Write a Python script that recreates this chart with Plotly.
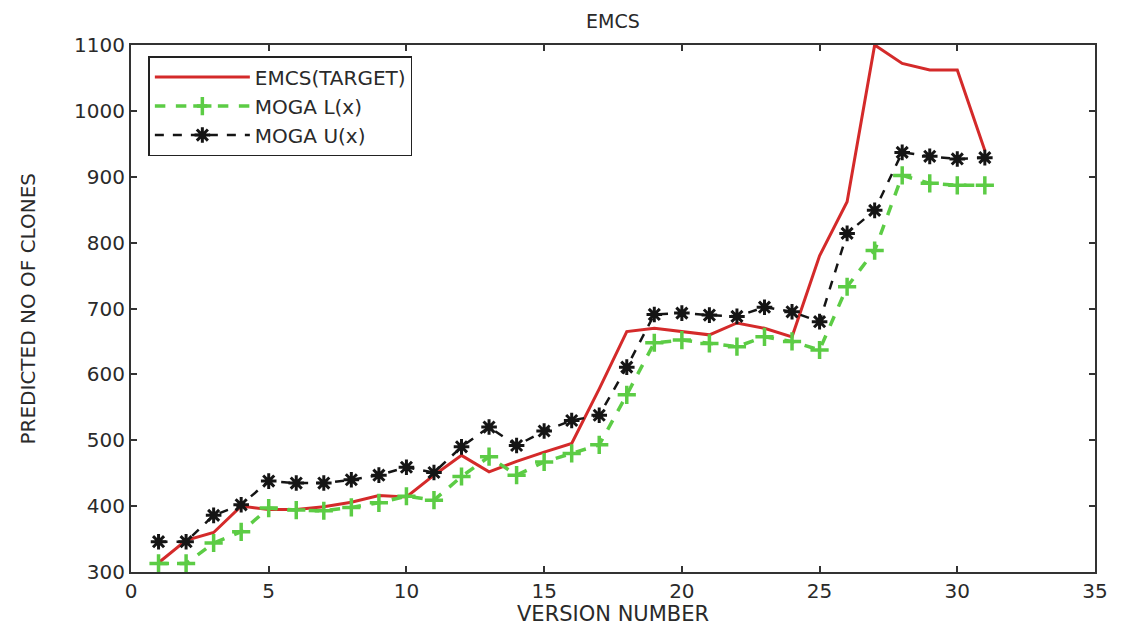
import plotly.graph_objects as go

# Version numbers and predicted clone counts
versions = list(range(1, 32))
emcs_target = [314, 348, 360, 400, 395, 395, 399, 406, 416, 414, 447, 477, 452, 468, 482, 495,
               578, 665, 670, 665, 660, 678, 670, 657, 780, 862, 1100, 1072, 1062, 1062, 940]
moga_lower = [313, 313, 344, 361, 397, 394, 393, 398, 405, 415, 409, 445, 475, 447, 467, 480,
              493, 569, 648, 652, 647, 642, 657, 650, 637, 733, 788, 902, 890, 887, 887]
moga_upper = [346, 346, 386, 402, 438, 435, 435, 440, 447, 459, 451, 490, 520, 492, 514, 530,
              538, 611, 691, 693, 690, 688, 702, 695, 680, 814, 849, 937, 931, 927, 929]

x_ticks = [0, 5, 10, 15, 20, 25, 30, 35]
y_ticks = [300, 400, 500, 600, 700, 800, 900, 1000, 1100]

FONT = "DejaVu Sans"
TXT = "#2a2a2a"

fig = go.Figure()
fig.add_trace(go.Scatter(
    x=versions, y=emcs_target, name="EMCS(TARGET)", mode="lines",
    line=dict(color="#d42a2a", width=3),
))
fig.add_trace(go.Scatter(
    x=versions, y=moga_lower, name="MOGA L(x)", mode="lines+markers",
    line=dict(color="#5ccc45", width=3.5, dash="dash"),
    marker=dict(symbol="cross-thin-open", size=13, color="#5ccc45",
                line=dict(color="#5ccc45", width=3.5)),
))
fig.add_trace(go.Scatter(
    x=versions, y=moga_upper, name="MOGA U(x)", mode="lines+markers",
    line=dict(color="#151515", width=2.5, dash="dash"),
    marker=dict(symbol="asterisk-open", size=13, color="#151515",
                line=dict(color="#151515", width=3)),
))

axis_common = dict(
    showgrid=False, zeroline=False, showline=True, mirror="ticks",
    linecolor="#333333", linewidth=2, ticks="inside", ticklen=6,
    tickcolor="#333333", tickwidth=1.5,
    tickfont=dict(family=FONT, size=20, color=TXT),
)

fig.update_layout(
    width=1121, height=628,
    margin=dict(l=131, r=26, t=45, b=56),
    paper_bgcolor="white", plot_bgcolor="white",
    showlegend=True,
    legend=dict(
        x=0.018, y=0.979, xanchor="left", yanchor="top",
        bgcolor="white", bordercolor="#222222", borderwidth=1.5,
        font=dict(family=FONT, size=20, color=TXT),
        itemwidth=95, tracegroupgap=0,
    ),
    xaxis=dict(range=[0, 35], tickvals=x_ticks, **axis_common),
    yaxis=dict(range=[300, 1100], tickvals=y_ticks, **axis_common),
    annotations=[
        dict(text="EMCS", xref="paper", yref="paper", x=0.5, y=1, yshift=24,
             xanchor="center", yanchor="middle", showarrow=False,
             font=dict(family=FONT, size=19, color=TXT)),
        dict(text="VERSION NUMBER", xref="paper", yref="paper", x=0.5, y=0, yshift=-42,
             xanchor="center", yanchor="middle", showarrow=False,
             font=dict(family=FONT, size=21, color=TXT)),
        dict(text="PREDICTED NO OF CLONES", xref="paper", yref="paper", x=0, xshift=-104,
             y=0.5, xanchor="center", yanchor="middle", textangle=-90, showarrow=False,
             font=dict(family=FONT, size=20, color=TXT)),
    ],
)

fig.write_html("out.html")
